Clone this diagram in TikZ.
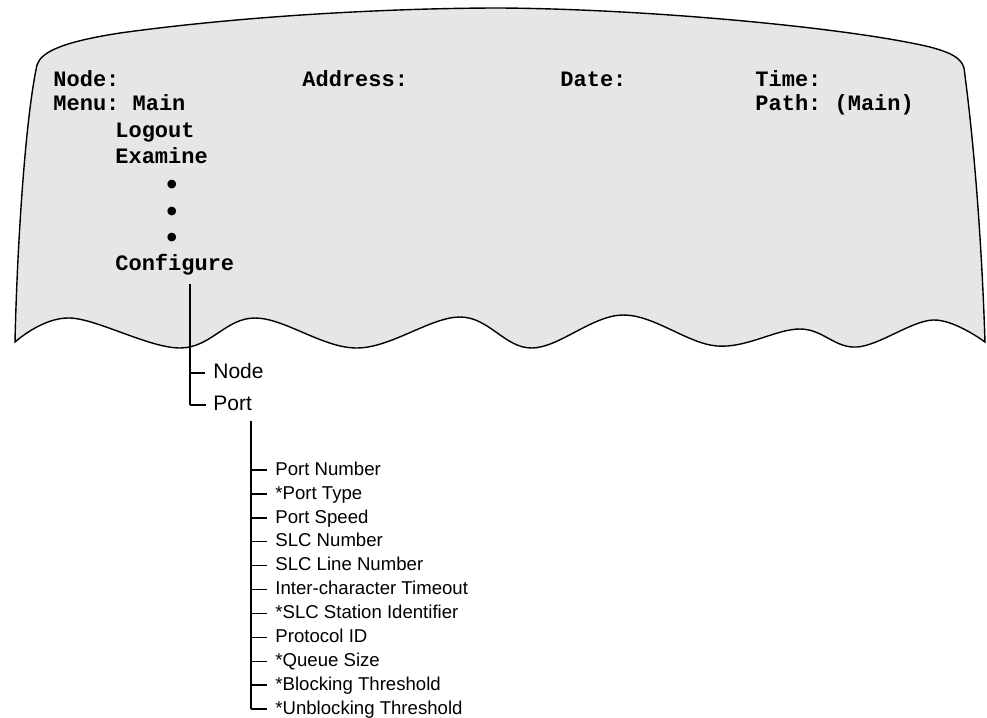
\documentclass[tikz,border=0pt]{standalone}
\usepackage{fontspec}
\setmainfont{Liberation Sans}
\newfontfamily\termfont{Liberation Mono}
\usepackage{tikz}
\usetikzlibrary{positioning,calc}
\usepackage{xcolor}
\definecolor{screenfill}{HTML}{E6E6E6}
\frenchspacing

\begin{document}
\begin{tikzpicture}[
    x=0.5pt, y=-0.5pt,
    screen/.style={draw=black, line width=0.7pt, fill=screenfill},
    term/.style={inner sep=0pt, anchor=base west, font=\termfont\bfseries\fontsize{11}{13}\selectfont},
    termdot/.style={inner sep=0pt, anchor=center, font=\termfont\bfseries\fontsize{15}{17}\selectfont},
    menuopt/.style={inner sep=0pt, anchor=west, text height=0.72em, text depth=0.2em, font=\fontsize{10.5}{12}\selectfont},
    item/.style={inner sep=0pt, anchor=west, text height=0.72em, text depth=0.2em, font=\fontsize{9.3}{11}\selectfont},
    spine/.style={line width=1.2pt},
    tick/.style={line width=0.7pt}
]
\useasboundingbox (0,0) rectangle (987,718);

% Torn screen
\draw[screen] (37,65) .. controls (41,52) and (62,42) .. (120,33)
    .. controls (250,15) and (400,8) .. (500,8)
    .. controls (650,9) and (850,28) .. (930,47)
    .. controls (952,53) and (961,58) .. (964,68)
    .. controls (975,150) and (982,250) .. (985,342)
    -- plot[smooth, tension=0.6] coordinates {(985,342) (933,320) (857,347) (800,329) (717,346) (623,315) (532,348) (460,317) (357,348) (255,318) (180,348) (70,318) (15,342)}
    .. controls (17,250) and (25,120) .. (37,65) -- cycle;

% Screen text
\node[term] (hdrnode) at (53,86) {Node:};
\node[term] (hdraddr) at (302,86) {Address:};
\node[term] (hdrdate) at (560,86) {Date:};
\node[term] (hdrtime) at (755,86) {Time:};
\node[term] (menu) at (53,110) {Menu: Main};
\node[term] (path) at (755,110) {Path: (Main)};
\node[term] (logout) at (115,137) {Logout};
\node[term] (examine) at (115,163) {Examine};
\node[termdot] (dot1) at (172,187) {\textbullet};
\node[termdot] (dot2) at (172,214) {\textbullet};
\node[termdot] (dot3) at (172,240) {\textbullet};
\node[term] (configure) at (115,270) {Configure};

% Configure options
\node[menuopt] (optnode) at (213,373) {Node};
\node[menuopt] (optport) at (213,405) {Port};

% Port parameters
\node[item] (p1) at (275,470) {Port Number};
\node[item] (p2) at (275,493.9) {*Port Type};
\node[item] (p3) at (275,517.8) {Port Speed};
\node[item] (p4) at (275,541.7) {SLC Number};
\node[item] (p5) at (275,565.6) {SLC Line Number};
\node[item] (p6) at (275,589.5) {Inter-character Timeout};
\node[item] (p7) at (275,613.4) {*SLC Station Identifier};
\node[item] (p8) at (275,637.3) {Protocol ID};
\node[item] (p9) at (275,661.2) {*Queue Size};
\node[item] (p10) at (275,685.1) {*Blocking Threshold};
\node[item] (p11) at (275,709) {*Unblocking Threshold};

% Tree lines - Configure
\coordinate (cfgtop) at (190,284);
\draw[spine] (cfgtop) -- (cfgtop |- optport.west);
\draw[tick] (cfgtop |- optnode.west) -- ([xshift=-4pt]optnode.west);
\draw[tick] (cfgtop |- optport.west) -- ([xshift=-3.5pt]optport.west);

% Tree lines - Port
\coordinate (porttop) at (251,421);
\draw[spine] (porttop) -- (porttop |- p11.west);
\draw[tick] (porttop |- p1.west) -- ([xshift=-4pt]p1.west);
\draw[tick] (porttop |- p2.west) -- ([xshift=-4pt]p2.west);
\draw[tick] (porttop |- p3.west) -- ([xshift=-4pt]p3.west);
\draw[tick] (porttop |- p4.west) -- ([xshift=-4pt]p4.west);
\draw[tick] (porttop |- p5.west) -- ([xshift=-4pt]p5.west);
\draw[tick] (porttop |- p6.west) -- ([xshift=-4pt]p6.west);
\draw[tick] (porttop |- p7.west) -- ([xshift=-4pt]p7.west);
\draw[tick] (porttop |- p8.west) -- ([xshift=-4pt]p8.west);
\draw[tick] (porttop |- p9.west) -- ([xshift=-4pt]p9.west);
\draw[tick] (porttop |- p10.west) -- ([xshift=-4pt]p10.west);
\draw[tick] (porttop |- p11.west) -- ([xshift=-4pt]p11.west);

\end{tikzpicture}
\end{document}
